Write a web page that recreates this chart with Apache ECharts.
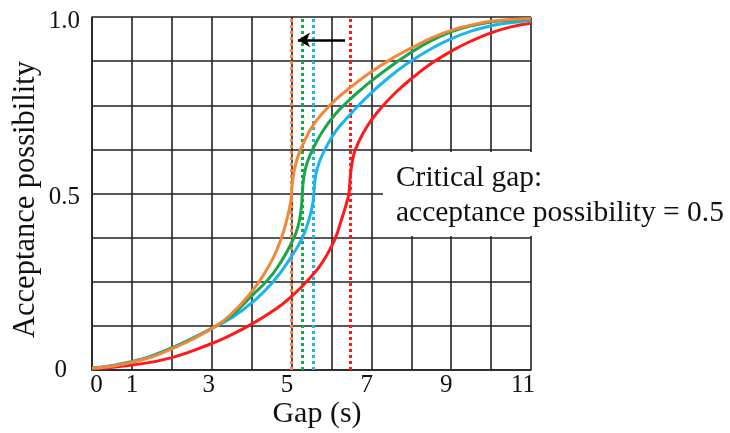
<!DOCTYPE html>
<html>
<head>
<meta charset="utf-8">
<script src="https://cdn.jsdelivr.net/npm/echarts@6/dist/echarts.min.js"></script>
<style>
  html, body { margin: 0; padding: 0; background: #fff; }
  #chart { width: 730px; height: 433px; }
</style>
</head>
<body>
<div id="chart"></div>
<script>
// Acceptance possibility curves against gap length, one per condition.
const redCurve = [[0,0.003],[1,0.014],[2,0.035],[3,0.075],[3.5,0.1],[4,0.13],[4.5,0.165],[4.96,0.204],[5.55,0.272],[5.8,0.31],[6,0.35],[6.12,0.38],[6.22,0.415],[6.32,0.45],[6.39,0.478],[6.43,0.496],[6.45,0.515],[6.47,0.545],[6.5,0.575],[6.54,0.6],[6.6,0.625],[6.8,0.672],[7,0.708],[7.3,0.75],[7.6,0.785],[8,0.825],[8.5,0.868],[9,0.903],[9.5,0.932],[10,0.955],[10.5,0.972],[11,0.982]];
const blueCurve = [[0,0.005],[1,0.024],[2,0.063],[3,0.118],[3.5,0.148],[4,0.19],[4.54,0.25],[5,0.322],[5.26,0.372],[5.42,0.42],[5.5,0.455],[5.54,0.478],[5.56,0.5],[5.58,0.53],[5.62,0.56],[5.7,0.59],[5.84,0.625],[6.1,0.675],[6.4,0.715],[6.7,0.752],[7,0.785],[7.4,0.825],[7.9,0.868],[8.5,0.91],[9,0.938],[9.5,0.96],[10,0.975],[10.5,0.984],[11,0.99]];
const greenCurve = [[0,0.005],[1,0.023],[2,0.062],[3,0.118],[3.5,0.155],[4,0.21],[4.41,0.256],[4.7,0.3],[5,0.36],[5.13,0.395],[5.2,0.425],[5.24,0.455],[5.26,0.48],[5.27,0.5],[5.29,0.53],[5.33,0.56],[5.4,0.59],[5.55,0.63],[5.8,0.68],[6.1,0.725],[6.4,0.76],[6.8,0.8],[7.3,0.845],[8,0.9],[8.5,0.933],[9,0.958],[9.5,0.975],[10,0.986],[10.5,0.991],[11,0.994]];
const orangeCurve = [[0,0.005],[1,0.022],[2,0.06],[3,0.118],[3.5,0.16],[4,0.222],[4.3,0.27],[4.55,0.32],[4.75,0.375],[4.88,0.425],[4.95,0.46],[4.99,0.485],[5,0.5],[5.02,0.53],[5.06,0.56],[5.12,0.59],[5.21,0.62],[5.35,0.655],[5.55,0.695],[5.8,0.73],[6.1,0.765],[6.5,0.803],[7,0.845],[7.6,0.888],[8,0.912],[8.5,0.94],[9,0.962],[9.5,0.977],[10,0.988],[10.5,0.993],[11,0.996]];

// Critical gap of each curve (where acceptance possibility = 0.5)
const criticalGaps = [6.47, 5.55, 5.26, 5.0];
const curveColors = ['#ff1a1a', '#1cb4ec', '#19a64a', '#f0883c'];
const curveNames = ['Case 1', 'Case 2', 'Case 3', 'Case 4'];

// Axis tick labels
const xTickLabels = [0, 1, 3, 5, 7, 9, 11];
const yTickLabels = { 0: '0', 0.5: '0.5', 1: '1.0' };

// Arrow showing the shift of the critical gap
const shiftArrow = [[6.34, 0.935], [5.16, 0.935]];

const FONT = "'Liberation Serif', 'Times New Roman', serif";
const chart = echarts.init(document.getElementById('chart'), null, { renderer: 'canvas' });

const curves = [redCurve, blueCurve, greenCurve, orangeCurve];
const series = curves.map((data, i) => ({
  name: curveNames[i],
  type: 'line',
  data: data,
  smooth: 0.5,
  showSymbol: false,
  lineStyle: { color: curveColors[i], width: 3 },
  z: 3 + i,
  markLine: {
    silent: true,
    symbol: 'none',
    label: { show: false },
    lineStyle: { color: curveColors[i], type: [3, 3], width: 3 },
    data: [{ xAxis: criticalGaps[i] }],
    z: 2
  }
}));

series.push({
  type: 'line',
  data: [],
  markLine: {
    silent: true,
    symbol: ['none', 'arrow'],
    symbolSize: [11, 12],
    label: { show: false },
    lineStyle: { color: '#000', type: 'solid', width: 2.5 },
    data: [[{ coord: shiftArrow[0] }, { coord: shiftArrow[1] }]]
  }
});

// Per-label nudges for the x tick labels
const xPad = { 0: [0, 0, 0, 9], 1: [0, 0, 0, 0], 3: [0, 6, 0, 0], 5: [0, 9, 0, 0], 7: [0, 9, 0, 0], 9: [0, 10, 0, 0], 11: [0, 16, 0, 0] };
const xRich = {};
xTickLabels.forEach(v => {
  xRich['t' + v] = { fontFamily: FONT, fontSize: 25, color: '#111', padding: xPad[v] };
});

chart.setOption({
  animation: false,
  backgroundColor: '#fff',
  grid: { left: 92, top: 17, right: 199, bottom: 63, containLabel: false, outerBoundsMode: 'none' },
  xAxis: {
    type: 'value',
    min: 0, max: 11, interval: 1,
    name: 'Gap (s)',
    nameLocation: 'middle',
    nameGap: 29,
    nameMoveOverlap: false,
    nameTextStyle: { fontFamily: FONT, fontSize: 30, color: '#111', padding: [0, 0, 0, 11] },
    axisLine: { lineStyle: { color: '#222', width: 1.6 } },
    axisTick: { show: false },
    splitLine: { lineStyle: { color: '#222', width: 1.6 } },
    axisLabel: {
      margin: 3,
      formatter: v => xTickLabels.indexOf(v) >= 0 ? '{t' + v + '|' + v + '}' : '',
      rich: xRich
    }
  },
  yAxis: {
    type: 'value',
    min: 0, max: 1, interval: 0.125,
    name: 'Acceptance possibility',
    nameLocation: 'middle',
    nameRotate: 90,
    nameGap: 51,
    nameMoveOverlap: false,
    nameTextStyle: { fontFamily: FONT, fontSize: 30.5, color: '#111', padding: [0, 12, 0, 0] },
    axisLine: { lineStyle: { color: '#222', width: 1.6 } },
    axisTick: { show: false },
    splitLine: { lineStyle: { color: '#222', width: 1.6 } },
    axisLabel: {
      margin: 12,
      formatter: v => yTickLabels[v] !== undefined ? (v === 0 ? '{z|0}' : '{n|' + yTickLabels[v] + '}') : '',
      rich: {
        n: { fontFamily: FONT, fontSize: 25, color: '#111', padding: [8, 0, 0, 0] },
        z: { fontFamily: FONT, fontSize: 25, color: '#111', padding: [0, 13, 0, 0] }
      }
    }
  },
  graphic: [
    { type: 'rect', z: 50, shape: { x: 383, y: 152, width: 347, height: 84 }, style: { fill: '#fff' } },
    { type: 'text', z: 51, x: 396, y: 178, style: { text: 'Critical gap:', font: '29.4px ' + FONT, fill: '#111', verticalAlign: 'middle' } },
    { type: 'text', z: 51, x: 396, y: 213, style: { text: 'acceptance possibility = 0.5', font: '29.5px ' + FONT, fill: '#111', verticalAlign: 'middle' } }
  ],
  series: series
});
</script>
</body>
</html>
